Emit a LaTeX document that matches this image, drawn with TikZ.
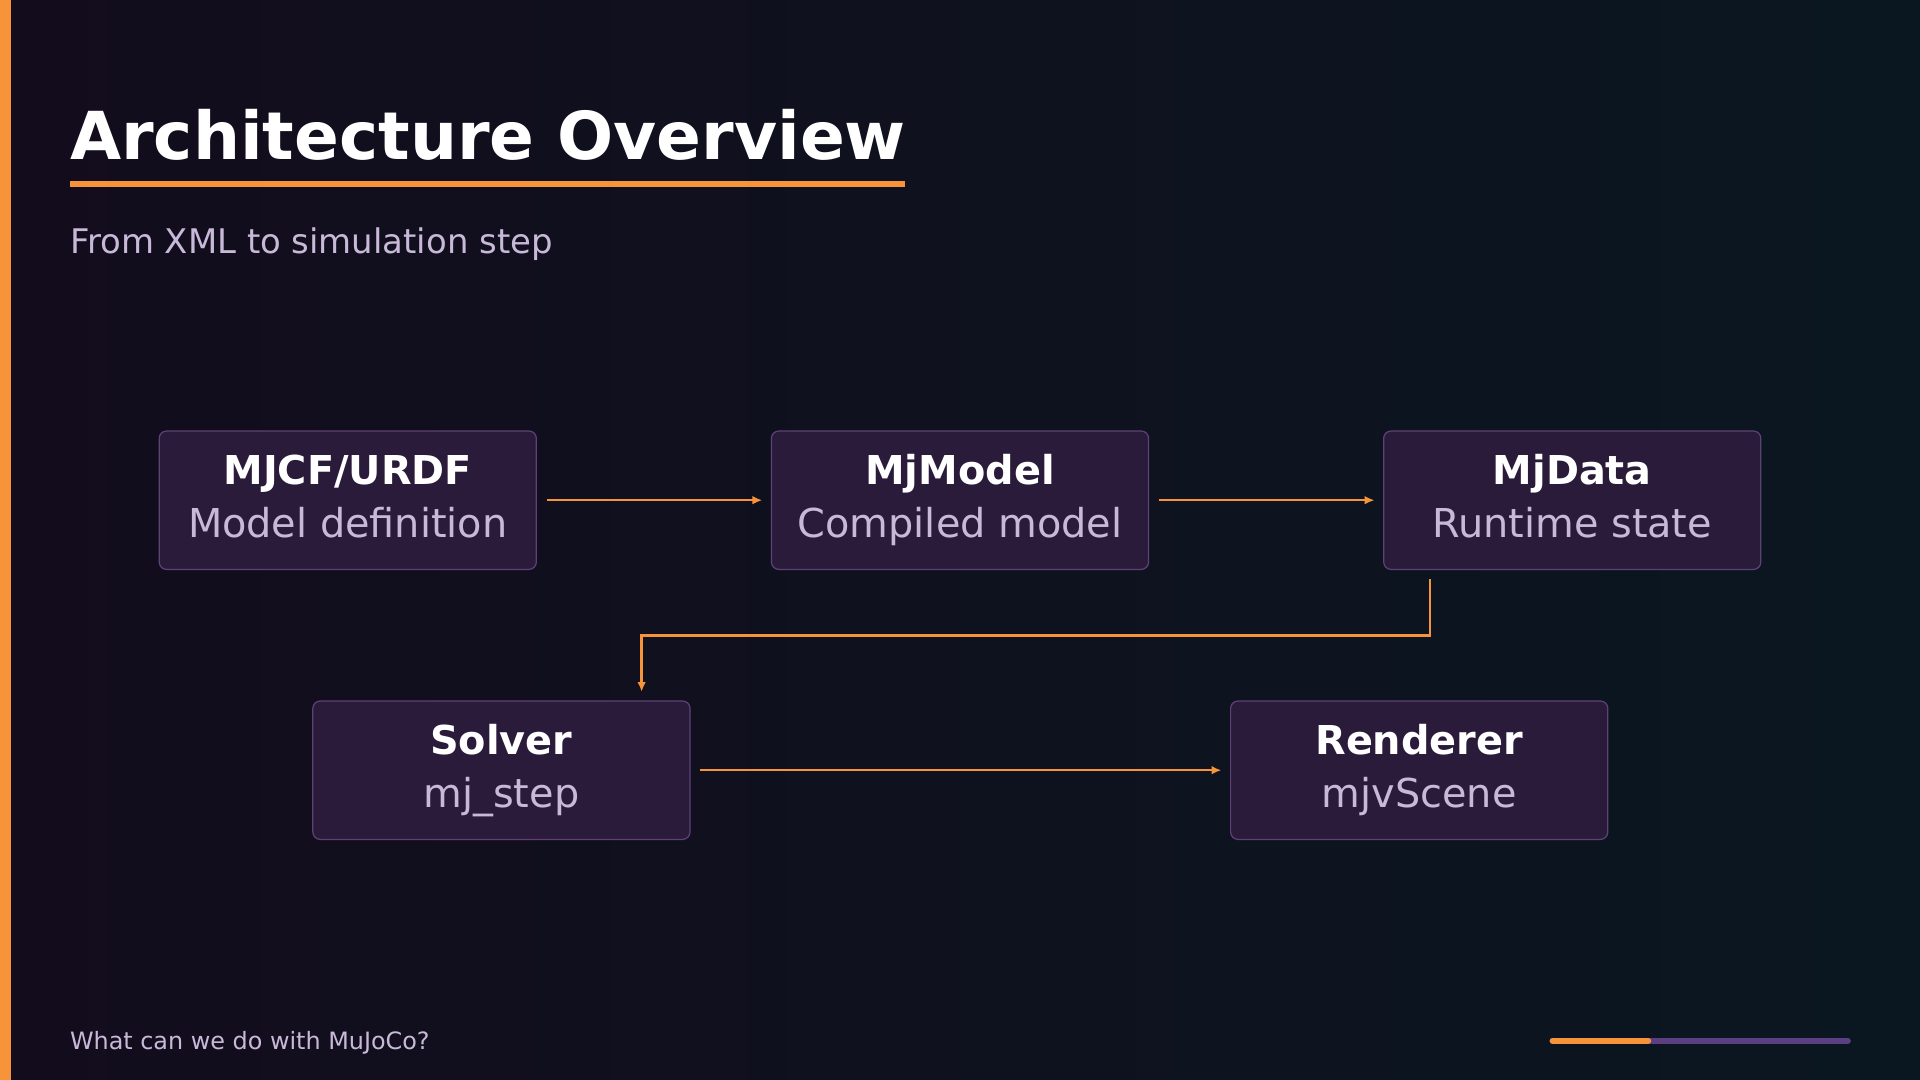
\documentclass[tikz,border=0pt]{standalone}
\usepackage{fontspec}
\setmainfont{DejaVu Sans}
\usetikzlibrary{arrows.meta,calc}
\definecolor{bgA}{HTML}{130C1D}
\definecolor{bgB}{HTML}{0A1720}
\definecolor{orng}{HTML}{F7943A}
\definecolor{boxf}{HTML}{2A1B3B}
\definecolor{boxd}{HTML}{5E4275}
\definecolor{soft}{HTML}{C9B9D9}
\definecolor{purp}{HTML}{5C3F82}
\begin{document}
\begin{tikzpicture}[x=1pt,y=-1pt,
 box/.style={draw=boxd,fill=boxf,rounded corners=6pt,line width=1pt,minimum width=308pt,minimum height=113pt,align=center,inner sep=0pt,font=\fontsize{32.5}{43}\selectfont},
 flow/.style={draw=orng,line width=2pt,-{Latex[length=8pt,width=7pt]}}]
\shade[left color=bgA,right color=bgB] (0,0) rectangle (1568,882);
\useasboundingbox (0,0) rectangle (1568,882);
\fill[orng] (0,0) rectangle (9,882);
\node[anchor=base west,inner sep=0,text=white,font=\fontsize{54}{60}\selectfont\bfseries] (title) at (57,130) {Architecture Overview};
\fill[orng] (57,148) rectangle (739,153);
\node[anchor=west,inner sep=0,text=soft,font=\fontsize{27.7}{30}\selectfont] (sub) at (57,199) {From XML to simulation step};
\newcommand{\bx}[4]{\node[box] (#1) at (#2) {\strut\textcolor{white}{\bfseries #3}\\\strut\textcolor{soft}{#4}};}
\bx{mjcf}{284,408.5}{MJCF/URDF}{Model definition}
\bx{model}{784,408.5}{MjModel}{Compiled model}
\bx{data}{1284,408.5}{MjData}{Runtime state}
\bx{solver}{409.5,629}{Solver}{mj\_step}
\bx{render}{1159,629}{Renderer}{mjvScene}
\draw[flow] ($(mjcf.east)+(8,0)$) -- ($(model.west)+(-7,0)$);
\draw[flow] ($(model.east)+(8,0)$) -- ($(data.west)+(-7,0)$);
\coordinate (e1) at (1168,473);
\coordinate (e2) at (524,565);
\draw[flow] (e1) -- (1168,519) -- (524,519) -- (e2);
\draw[flow] ($(solver.east)+(8,0)$) -- ($(render.west)+(-7,0)$);
\node[anchor=west,inner sep=0,text=soft,font=\fontsize{19.5}{22}\selectfont] (foot) at (57,852) {What can we do with MuJoCo?};
\draw[purp,line width=5pt,line cap=round] (1268,850) -- (1509,850);
\draw[orng,line width=5pt,line cap=round] (1268,850) -- (1346,850);
\end{tikzpicture}
\end{document}
